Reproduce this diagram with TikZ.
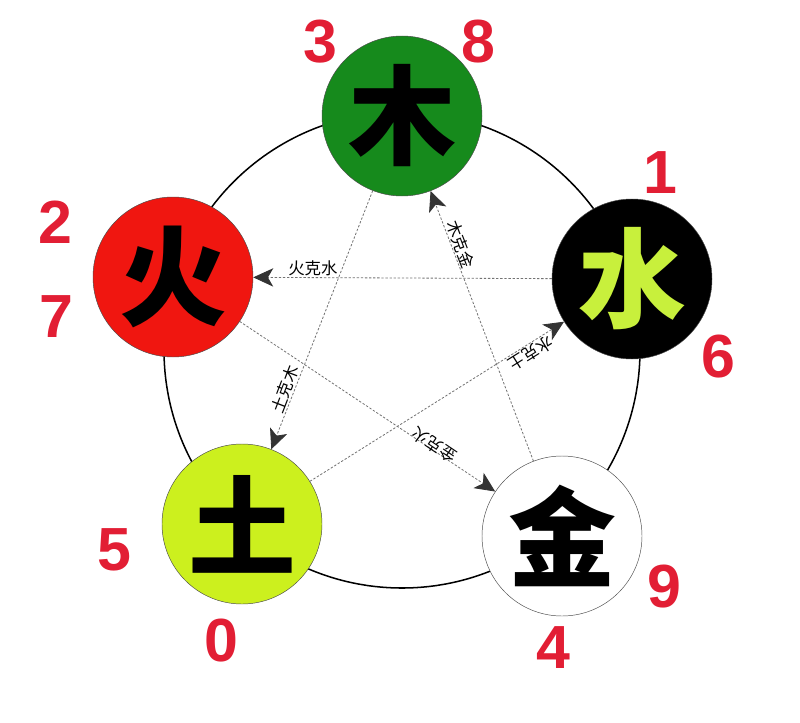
\documentclass[tikz,border=0pt]{standalone}
\usepackage{fontspec}
\setmainfont{Liberation Sans}
\newfontfamily\cjk{Noto Sans CJK SC}
\usetikzlibrary{arrows.meta}
\definecolor{mugreen}{RGB}{22,138,28}
\definecolor{huored}{RGB}{240,22,16}
\definecolor{tuyellow}{RGB}{204,240,30}
\definecolor{shuichar}{RGB}{200,240,60}
\definecolor{numred}{RGB}{226,30,52}
\begin{document}
\begin{tikzpicture}[x=0.3mm, y=-0.3mm,
  elem/.style={circle, draw=black!70, line width=0.4pt, minimum size=48mm, inner sep=0pt,
    font=\cjk\bfseries\fontsize{92}{92}\selectfont},
  num/.style={text=numred, font=\bfseries\fontsize{52}{52}\selectfont},
  ke/.style={draw=black!55, line width=0.7pt, dash pattern=on 2pt off 1.5pt,
    -{Stealth[length=6mm, width=5.5mm, inset=1.6mm, color=black!80]}},
  kelbl/.style={font=\cjk\fontsize{14}{14}\selectfont, inner sep=1pt}]
\useasboundingbox (0,0) rectangle (800,722);
\draw[line width=1.3pt] (402,350) circle [radius=238];
\node[elem, fill=mugreen] (mu) at (402,116) {木};
\node[elem, fill=huored] (huo) at (173,277) {火};
\node[elem, fill=black, text=shuichar] (shui) at (632,279) {水};
\node[elem, fill=tuyellow] (tu) at (242,524) {土};
\node[elem, fill=white] (jin) at (562,536) {金};
\node[num] (n3) at (320,42) {3};
\node[num] (n8) at (478,42) {8};
\node[num] (n1) at (660,173) {1};
\node[num] (n6) at (718,357) {6};
\node[num] (n2) at (55,222) {2};
\node[num] (n7) at (56,317) {7};
\node[num] (n5) at (114,550) {5};
\node[num] (n0) at (221,641) {0};
\node[num] (n9) at (664,587) {9};
\node[num] (n4) at (553,648) {4};
\draw[ke] (shui) -- node[kelbl, above, pos=0.8] {火克水} (huo);
\draw[ke] (jin) -- node[kelbl, above, pos=0.79, rotate=-69] {木克金} (mu);
\draw[ke] (tu) -- node[kelbl, above, pos=0.85, rotate=-148] {水克土} (shui);
\draw[ke] (huo) -- node[kelbl, pos=0.75, rotate=146, yshift=-1.5mm] {金克火} (jin);
\draw[ke] (mu) -- node[kelbl, above, pos=0.78, rotate=69] {土克木} (tu);
\end{tikzpicture}
\end{document}
